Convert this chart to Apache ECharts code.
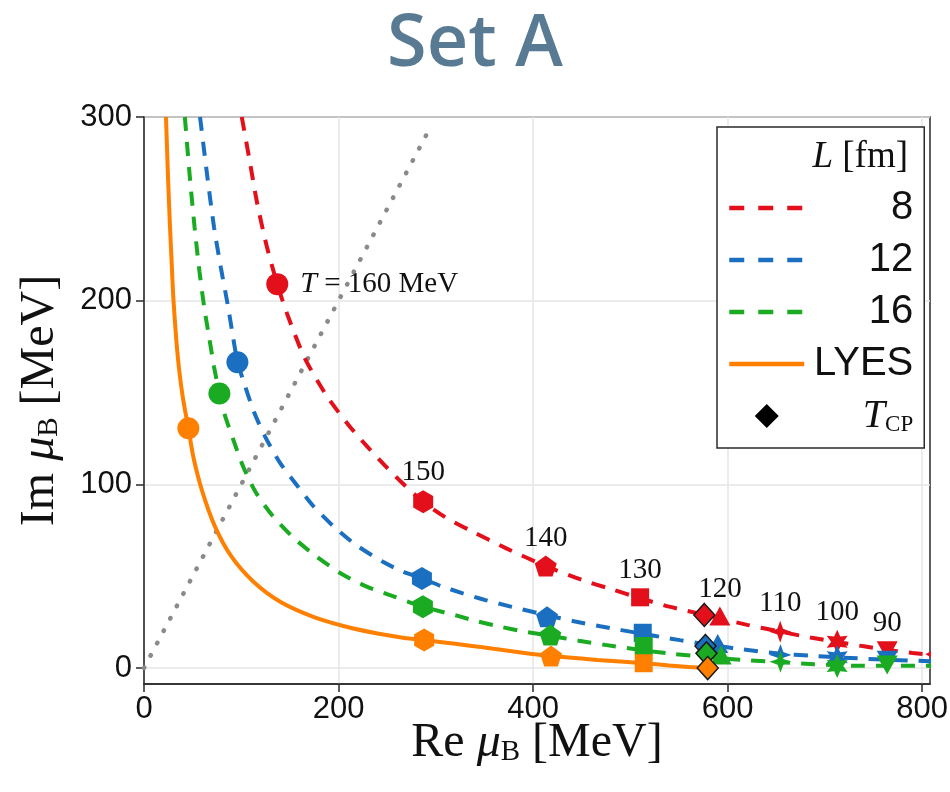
<!DOCTYPE html>
<html>
<head>
<meta charset="utf-8">
<script src="https://cdn.jsdelivr.net/npm/echarts@6/dist/echarts.min.js"></script>
<style>
  html, body { margin: 0; padding: 0; background: #fff; }
  #chart { width: 950px; height: 792px; }
</style>
</head>
<body>
<div id="chart"></div>
<script>
// Temperatures (MeV) attached to the marked points, in marker order
const temperatures = ['160', '150', '140', '130', '120', '110', '100', '90', '80'];

// Marked points [Re muB, Im muB] (MeV), one per temperature
const pointsL8 = [[137, 209], [287, 90.5], [413, 55.5], [510, 38.5], [592, 28.3], [654, 19.8], [712.6, 14.3], [764, 9.4], [813, 7.5]];
const pointsL12 = [[96, 166.5], [285.7, 48.8], [414.3, 27.9], [512.7, 19.2], [589.8, 13.4], [654.3, 7.1], [712.6, 5.8], [764, 4.2], [813, 3.6]];
const pointsL16 = [[77.5, 149.5], [286.7, 33.4], [417.7, 18], [513.7, 12], [593.3, 7.1], [654.3, 3.4], [712.6, 1.1], [764, 1.6], [813, 1.3]];
const pointsLYES = [[45.6, 130.5], [288, 15.2], [418.4, 6.5], [513.7, 2.6]];

// Lee-Yang edge trajectories
const curveL8 = [[100.5, 300], [108, 278], [116, 254], [126, 230], [137, 209], [147, 193], [165, 169], [188, 148], [210, 132.5], [227, 122], [248, 110], [265, 101], [287, 90.5], [310, 82], [335, 75], [373, 65], [413, 55.5], [450, 48], [480, 43], [510, 38], [540, 33.4], [576, 29], [592, 27], [620, 23.5], [654, 19.8], [685, 16.6], [713, 14.1], [740, 11.8], [764, 9.8], [790, 8.2], [815, 7]];
const curveL12 = [[57.6, 300], [65, 268], [72, 240], [79, 218], [86, 198], [91, 182], [96, 167], [103, 155], [113, 139.5], [124.5, 126], [139.5, 112], [157, 99.6], [173.5, 88.5], [195.5, 76.8], [218, 67], [245.6, 57.8], [266, 52.5], [285.7, 48.8], [306, 44.5], [327, 40.8], [351, 37], [378, 33.3], [414, 28.8], [442, 25.5], [469, 22.7], [512.7, 18.6], [536, 16.5], [551, 15.2], [577, 13], [590, 12], [613, 10.3], [654, 7.8], [685, 6.7], [712.6, 5.8], [740, 5.1], [764, 4.5], [790, 4], [815, 3.6]];
const curveL16 = [[42, 300], [47, 268], [52, 240], [57, 216], [62, 196], [67, 180], [72, 164], [77.5, 149.5], [82.3, 139], [92, 124], [102, 109.6], [115, 95.6], [132, 83], [153.6, 71], [176.6, 61], [202.4, 51.5], [229, 44.3], [256.5, 39], [286.7, 33.4], [321.7, 28.5], [342, 25.5], [366, 22.5], [388.6, 20.1], [417.7, 17.5], [446.8, 14.9], [474, 12.6], [513.7, 9.6], [545, 7.6], [578, 6], [613, 4.5], [654, 3.2], [689, 2], [713, 1.5], [737, 1.2], [764, 1.2], [790, 1.2], [815, 1.2]];
const curveLYES = [[22.6, 300], [24.5, 270], [26.5, 243], [28.5, 220], [30.1, 202], [33, 180], [36, 163], [40, 147], [45.6, 130.5], [50.7, 115], [59.4, 97], [73, 77], [90, 60.6], [112.5, 47], [140, 36.1], [174, 27.9], [208, 22.5], [240, 18.8], [263, 16.8], [288, 15.2], [320, 13.2], [346, 11.4], [380, 9], [418.4, 6.5], [466, 4.4], [513.7, 2.6], [540, 1.4], [560, 0.6], [579.5, 0]];

// Critical points T_CP for L = 8, 12, 16 and LYES
const criticalPoints = [[576, 28.9], [577.2, 12], [578.2, 8], [579.5, 0]];

// Straight reference line Im muB = Re muB
const diagonalLine = [[0, 0], [296, 296]];

// Axis ticks
const xTickValues = [0, 200, 400, 600, 800];
const yTickValues = [0, 100, 200, 300];

const SERIF = '"Liberation Serif", "DejaVu Serif", serif';
const SANS = '"Liberation Sans", Arial, sans-serif';

const COLORS = ['#e3101b', '#1b6fc0', '#1aab22', '#ff8000'];
const DASH = [14, 11];

const HEX = 'path://M0,-10L8.66,-5L8.66,5L0,10L-8.66,5L-8.66,-5Z';
const PENT = 'path://M0,-10L9.51,-3.09L5.88,8.09L-5.88,8.09L-9.51,-3.09Z';
const STAR4 = 'path://M0,-10L2.6,-2.6L10,0L2.6,2.6L0,10L-2.6,2.6L-10,0L-2.6,-2.6Z';
const STAR6 = 'path://M0,-10L2.5,-4.33L8.66,-5L5,0L8.66,5L2.5,4.33L0,10L-2.5,4.33L-8.66,5L-5,0L-8.66,-5L-2.5,-4.33Z';
// Legend diamond: square-aspect diamond centred in the 75 x 24 icon box
const LEGEND_DIAMOND = 'path://M0,0M75,24M24.5,12L37.5,-1L50.5,12L37.5,25Z';

// One marker shape per temperature
const markerShapes = [
  { symbol: 'circle', size: 22, rotate: 0 },
  { symbol: HEX, size: [20, 23], rotate: 0 },
  { symbol: PENT, size: [22, 21], rotate: 0 },
  { symbol: 'rect', size: 18, rotate: 0 },
  { symbol: 'triangle', size: [21, 19], rotate: 0 },
  { symbol: STAR4, size: 22, rotate: 0 },
  { symbol: STAR6, size: [21, 24], rotate: 0 },
  { symbol: 'triangle', size: [21, 19], rotate: 180 },
  { symbol: 'triangle', size: [21, 19], rotate: 90 }
];

function curveSeries(name, data, color, dashed) {
  return {
    name: name,
    type: 'line',
    data: data,
    symbol: 'none',
    showSymbol: false,
    smooth: 0.25,
    z: 3,
    silent: true,
    clip: true,
    itemStyle: { color: color },
    lineStyle: { color: color, width: 4, type: dashed ? DASH : 'solid' }
  };
}

function markerSeries(name, points, color, withLabels) {
  return {
    name: name,
    type: 'scatter',
    z: 4,
    clip: false,
    silent: true,
    itemStyle: { color: color, opacity: 1 },
    data: points.map(function (p, i) {
      const m = markerShapes[i];
      const item = { value: p, symbol: m.symbol, symbolSize: m.size, symbolRotate: m.rotate };
      if (withLabels && i === 0) {
        item.label = {
          show: true, position: 'right', distance: 12,
          formatter: '{i|T}{n| = ' + temperatures[i] + ' MeV}',
          rich: {
            i: { fontFamily: SERIF, fontStyle: 'italic', fontSize: 30, color: '#111' },
            n: { fontFamily: SERIF, fontSize: 29, color: '#111' }
          }
        };
      } else if (withLabels && i < 8) {
        item.label = {
          show: true, position: 'top', distance: 3,
          formatter: temperatures[i],
          fontFamily: SERIF, fontSize: 29, color: '#111'
        };
      }
      return item;
    })
  };
}

const axisNameRich = {
  n: { fontFamily: SERIF, fontSize: 48, color: '#111' },
  i: { fontFamily: SERIF, fontStyle: 'italic', fontSize: 48, color: '#111' },
  s: { fontFamily: SERIF, fontSize: 29, color: '#111', verticalAlign: 'bottom', lineHeight: 28 }
};

const chart = echarts.init(document.getElementById('chart'), null, { renderer: 'canvas' });

chart.setOption({
  animation: false,
  backgroundColor: '#fff',
  title: {
    text: 'Set A',
    left: 'center',
    top: 4,
    textStyle: { fontFamily: '"Open Sans", "Noto Sans", sans-serif', fontWeight: 600, fontSize: 72, color: '#587a92' }
  },
  grid: {
    left: 144, right: 20, top: 117, bottom: 108,
    show: true, borderColor: '#2a2a2a', borderWidth: 1.5,
    outerBoundsMode: 'none'
  },
  xAxis: {
    type: 'value', min: 0, max: 808, minInterval: 200, maxInterval: 200,
    name: '{n|Re }{i|μ}{s|B}{n| [MeV]}',
    nameLocation: 'middle', nameGap: 35, nameMoveOverlap: false,
    nameTextStyle: { rich: axisNameRich },
    axisLine: { show: true, onZero: false, lineStyle: { color: '#2a2a2a', width: 1.5 } },
    axisTick: { show: true, length: 8, customValues: xTickValues, lineStyle: { color: '#2a2a2a', width: 1.5 } },
    axisLabel: { customValues: xTickValues, fontFamily: SANS, fontSize: 31, color: '#111', margin: 10 },
    splitLine: { show: true, lineStyle: { color: '#e6e6e6', width: 1.5 } }
  },
  yAxis: {
    type: 'value', min: -8.7, max: 300, minInterval: 100, maxInterval: 100,
    name: '{n|Im }{i|μ}{s|B}{n| [MeV]}',
    nameLocation: 'middle', nameGap: 80, nameRotate: 90, nameMoveOverlap: false,
    nameTextStyle: { rich: axisNameRich },
    axisLine: { show: true, onZero: false, lineStyle: { color: '#2a2a2a', width: 1.5 } },
    axisTick: { show: true, length: 8, customValues: yTickValues, lineStyle: { color: '#2a2a2a', width: 1.5 } },
    axisLabel: { customValues: yTickValues, fontFamily: SANS, fontSize: 31, color: '#111', margin: 12 },
    splitLine: { show: true, lineStyle: { color: '#e6e6e6', width: 1.5 } }
  },
  legend: {
    orient: 'vertical',
    left: 717, top: 127,
    padding: [61, 11, 12, 10],
    itemWidth: 75, itemHeight: 24, itemGap: 12,
    backgroundColor: '#fff',
    borderColor: '#2a2a2a', borderWidth: 1.5, borderRadius: 0,
    selectedMode: false,
    data: [
      { name: '8', itemStyle: { opacity: 0 }, lineStyle: { type: [15, 14], width: 4.5 } },
      { name: '12', itemStyle: { opacity: 0 }, lineStyle: { type: [15, 14], width: 4.5 } },
      { name: '16', itemStyle: { opacity: 0 }, lineStyle: { type: [15, 14], width: 4.5 } },
      { name: 'LYES', itemStyle: { opacity: 0 }, lineStyle: { width: 4.5 } },
      { name: 'T_CP', icon: LEGEND_DIAMOND, itemStyle: { color: '#000', borderColor: '#000', borderWidth: 0 } }
    ],
    formatter: function (name) {
      return name === 'T_CP' ? '{ti|T}{ts|CP}' : '{r|' + name + '}';
    },
    textStyle: {
      width: 104, lineHeight: 40,
      rich: {
        r: { fontFamily: SANS, fontSize: 40, color: '#111', align: 'right' },
        ti: { fontFamily: SERIF, fontStyle: 'italic', fontSize: 40, color: '#111', align: 'right' },
        ts: { fontFamily: SERIF, fontSize: 23, color: '#111', align: 'right', verticalAlign: 'bottom', lineHeight: 24 }
      }
    }
  },
  graphic: [
    {
      type: 'text', x: 908, y: 157, z: 20,
      style: {
        text: '{i|L}{n| [fm]}',
        align: 'right', verticalAlign: 'middle',
        rich: {
          i: { fontFamily: SERIF, fontStyle: 'italic', fontSize: 37, fill: '#111' },
          n: { fontFamily: SERIF, fontSize: 37, fill: '#111' }
        }
      }
    },
    {
      // keeps the markers past the right edge of the frame hidden
      type: 'rect', z: 20, silent: true,
      shape: { x: 931, y: 100, width: 19, height: 582 },
      style: { fill: '#fff' }
    }
  ],
  series: [
    {
      name: 'diagonal', type: 'line', data: diagonalLine, symbol: 'none', z: 2, silent: true,
      lineStyle: { color: '#8a8a8a', width: 4.5, type: [0.5, 13.5], cap: 'round' }
    },
    curveSeries('8', curveL8, COLORS[0], true),
    curveSeries('12', curveL12, COLORS[1], true),
    curveSeries('16', curveL16, COLORS[2], true),
    curveSeries('LYES', curveLYES, COLORS[3], false),
    markerSeries('L8 points', pointsL8, COLORS[0], true),
    markerSeries('L12 points', pointsL12, COLORS[1], false),
    markerSeries('L16 points', pointsL16, COLORS[2], false),
    markerSeries('LYES points', pointsLYES, COLORS[3], false),
    {
      name: 'T_CP', type: 'scatter', z: 5, silent: true,
      symbol: 'diamond', symbolSize: [21, 23],
      itemStyle: { color: '#000', borderColor: '#000', borderWidth: 1.5, opacity: 1 },
      data: criticalPoints.map(function (p, i) {
        return { value: p, itemStyle: { color: COLORS[i], borderColor: '#1a1a1a', borderWidth: 1.5 } };
      })
    }
  ]
});
</script>
</body>
</html>
